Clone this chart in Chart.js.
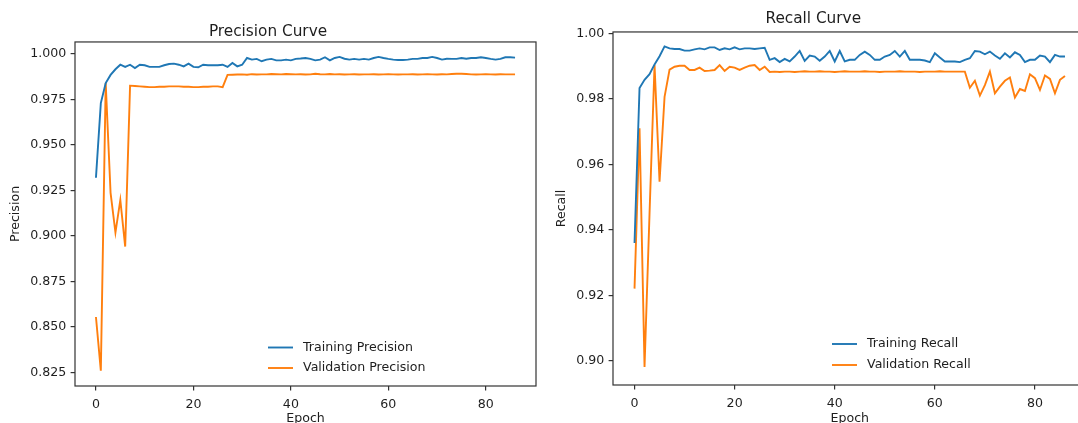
<!DOCTYPE html>
<html>
<head>
<meta charset="utf-8">
<title>Precision / Recall</title>
<script src="https://cdn.jsdelivr.net/npm/chart.js@4.4.1/dist/chart.umd.min.js"></script>
<style>
  html, body { margin:0; padding:0; background:#fff; overflow:hidden; width:1078px; height:423px; }
  canvas { position:absolute; top:0; }
  #precChart { left:0; }
  #recChart { left:540px; }
</style>
</head>
<body>
<canvas id="precChart" width="540" height="440"></canvas>
<canvas id="recChart" width="560" height="440"></canvas>
<script>
// per-epoch metrics, epochs 0..86
const precTrain = [
  0.9320, 0.9730, 0.9840, 0.9885, 0.9916, 0.9941, 0.9929, 0.9941, 0.9923, 0.9941,
  0.9938, 0.9929, 0.9929, 0.9929, 0.9938, 0.9945, 0.9947, 0.9941, 0.9932, 0.9947,
  0.9929, 0.9927, 0.9941, 0.9938, 0.9938, 0.9938, 0.9941, 0.9929, 0.9951, 0.9932,
  0.9941, 0.9978, 0.9969, 0.9973, 0.9960, 0.9969, 0.9973, 0.9965, 0.9965, 0.9969,
  0.9965, 0.9973, 0.9975, 0.9978, 0.9973, 0.9965, 0.9969, 0.9982, 0.9965, 0.9978,
  0.9984, 0.9974, 0.9969, 0.9973, 0.9969, 0.9973, 0.9969, 0.9978, 0.9984, 0.9978,
  0.9973, 0.9969, 0.9967, 0.9967, 0.9969, 0.9973, 0.9973, 0.9978, 0.9978, 0.9984,
  0.9978, 0.9969, 0.9974, 0.9973, 0.9973, 0.9978, 0.9974, 0.9978, 0.9978, 0.9982,
  0.9978, 0.9973, 0.9969, 0.9973, 0.9982, 0.9982, 0.9980
];
const precVal = [
  0.8555, 0.8260, 0.9840, 0.9237, 0.9019, 0.9198, 0.8942, 0.9826, 0.9824, 0.9822,
  0.9820, 0.9818, 0.9818, 0.9820, 0.9820, 0.9822, 0.9822, 0.9822, 0.9820, 0.9820,
  0.9818, 0.9818, 0.9820, 0.9820, 0.9822, 0.9822, 0.9818, 0.9885, 0.9886, 0.9887,
  0.9888, 0.9886, 0.9889, 0.9887, 0.9888, 0.9888, 0.9890, 0.9889, 0.9888, 0.9890,
  0.9889, 0.9888, 0.9889, 0.9887, 0.9888, 0.9891, 0.9889, 0.9888, 0.9890, 0.9888,
  0.9889, 0.9887, 0.9888, 0.9889, 0.9887, 0.9888, 0.9888, 0.9889, 0.9887, 0.9888,
  0.9889, 0.9888, 0.9887, 0.9888, 0.9888, 0.9889, 0.9887, 0.9888, 0.9889, 0.9888,
  0.9887, 0.9889, 0.9888, 0.9890, 0.9891, 0.9891, 0.9890, 0.9888, 0.9887, 0.9888,
  0.9889, 0.9888, 0.9887, 0.9889, 0.9888, 0.9888, 0.9888
];
const recTrain = [
  0.9360, 0.9833, 0.9858, 0.9875, 0.9905, 0.9930, 0.9960, 0.9954, 0.9952, 0.9952,
  0.9947, 0.9947, 0.9951, 0.9954, 0.9951, 0.9957, 0.9957, 0.9949, 0.9954, 0.9951,
  0.9957, 0.9951, 0.9954, 0.9954, 0.9952, 0.9954, 0.9956, 0.9919, 0.9924, 0.9912,
  0.9922, 0.9914, 0.9929, 0.9946, 0.9916, 0.9932, 0.9929, 0.9916, 0.9929, 0.9946,
  0.9914, 0.9946, 0.9914, 0.9919, 0.9919, 0.9934, 0.9944, 0.9934, 0.9919, 0.9919,
  0.9929, 0.9934, 0.9946, 0.9929, 0.9946, 0.9919, 0.9919, 0.9919, 0.9917, 0.9912,
  0.9939, 0.9926, 0.9914, 0.9914, 0.9914, 0.9912, 0.9919, 0.9924, 0.9946, 0.9944,
  0.9936, 0.9944, 0.9932, 0.9922, 0.9939, 0.9926, 0.9942, 0.9934, 0.9912, 0.9919,
  0.9919, 0.9932, 0.9929, 0.9912, 0.9934, 0.9929, 0.9929
];
const recVal = [
  0.9221, 0.9710, 0.8982, 0.9450, 0.9903, 0.9547, 0.9806, 0.9889, 0.9898, 0.9901,
  0.9901, 0.9888, 0.9888, 0.9895, 0.9885, 0.9886, 0.9888, 0.9903, 0.9885, 0.9898,
  0.9895, 0.9888, 0.9895, 0.9901, 0.9903, 0.9888, 0.9898, 0.9882, 0.9883, 0.9882,
  0.9883, 0.9883, 0.9882, 0.9883, 0.9884, 0.9883, 0.9883, 0.9884, 0.9883, 0.9883,
  0.9882, 0.9883, 0.9884, 0.9883, 0.9883, 0.9883, 0.9884, 0.9883, 0.9883, 0.9882,
  0.9883, 0.9883, 0.9883, 0.9884, 0.9883, 0.9883, 0.9883, 0.9882, 0.9883, 0.9883,
  0.9883, 0.9884, 0.9883, 0.9883, 0.9883, 0.9883, 0.9883, 0.9834, 0.9855, 0.9810,
  0.9842, 0.9883, 0.9817, 0.9837, 0.9855, 0.9865, 0.9804, 0.9830, 0.9824, 0.9875,
  0.9863, 0.9827, 0.9871, 0.9861, 0.9817, 0.9858, 0.9870
];

const epochTicks = [0, 20, 40, 60, 80];
const precTicks = [0.825, 0.850, 0.875, 0.900, 0.925, 0.950, 0.975, 1.000];
const recTicks = [0.90, 0.92, 0.94, 0.96, 0.98, 1.00];

const FONT = 'DejaVu Sans';
const INK = '#1e1e1e';
const BLUE = '#1f77b4', ORANGE = '#ff7f0e';

const pts = arr => arr.map((v, i) => ({x: i, y: v}));

// legend drawn inside the plot, no frame
const insideLegend = {
  id: 'insideLegend',
  afterDraw(chart, args, opts) {
    const {ctx, chartArea} = chart;
    ctx.save();
    ctx.font = '12.6px "' + FONT + '"';
    ctx.textBaseline = 'middle';
    ctx.fillStyle = INK;
    chart.data.datasets.forEach((ds, i) => {
      const x = chartArea.left + opts.x;
      const y = chartArea.bottom + opts.rows[i];
      ctx.strokeStyle = ds.borderColor;
      ctx.lineWidth = 1.9;
      ctx.beginPath(); ctx.moveTo(x, y); ctx.lineTo(x + 25, y); ctx.stroke();
      ctx.fillText(ds.label, x + 35, y);
    });
    ctx.restore();
  }
};

// full box around the plot area
const frame = {
  id: 'frame',
  afterDraw(chart) {
    const {ctx, chartArea: a} = chart;
    ctx.save();
    ctx.strokeStyle = '#333';
    ctx.lineWidth = 1.2;
    ctx.strokeRect(a.left, a.top, a.right - a.left, a.bottom - a.top);
    ctx.restore();
  }
};

function makeChart(id, c) {
  const axisTick = {drawOnChartArea: false, drawTicks: true, tickLength: 4.4, color: '#333', lineWidth: 1.2};
  return new Chart(document.getElementById(id), {
    type: 'line',
    data: {datasets: [
      {label: c.labels[0], data: pts(c.train), borderColor: BLUE, borderWidth: 1.9, pointRadius: 0, tension: 0},
      {label: c.labels[1], data: pts(c.val), borderColor: ORANGE, borderWidth: 1.9, pointRadius: 0, tension: 0}
    ]},
    options: {
      responsive: false, animation: false, devicePixelRatio: 1,
      layout: {padding: {left: 0, right: c.padRight, top: 0, bottom: 0}},
      plugins: {
        legend: {display: false},
        tooltip: {enabled: false},
        title: {display: true, text: c.title, color: INK,
          font: {family: FONT, size: 15.3, weight: 'normal'},
          padding: c.titlePad},
        insideLegend: c.legend
      },
      scales: {
        x: {
          type: 'linear', min: -4.3, max: 90.3,
          afterBuildTicks: s => { s.ticks = epochTicks.map(v => ({value: v})); },
          afterFit: s => { s.height = c.xHeight; },
          grid: axisTick, border: {display: false},
          ticks: {color: INK, padding: 6.5, font: {family: FONT, size: 12.6}},
          title: {display: true, text: 'Epoch', color: INK, font: {family: FONT, size: 12.6}, padding: {top: 0, bottom: 13.6}}
        },
        y: {
          type: 'linear', min: c.yMin, max: c.yMax,
          afterBuildTicks: s => { s.ticks = c.yTicks.map(v => ({value: v})); },
          afterFit: s => { s.width = c.yWidth; },
          grid: axisTick, border: {display: false},
          ticks: {color: INK, padding: 4.4, font: {family: FONT, size: 12.6},
            callback: v => v.toFixed(c.digits)},
          title: {display: true, text: c.yLabel, color: INK, font: {family: FONT, size: 12.6}, padding: {top: c.yTitleOffset, bottom: 0}}
        }
      }
    },
    plugins: [frame, insideLegend]
  });
}

makeChart('precChart', {
  title: 'Precision Curve', yLabel: 'Precision',
  labels: ['Training Precision', 'Validation Precision'],
  train: precTrain, val: precVal,
  yMin: 0.8176, yMax: 1.0066, yTicks: precTicks, digits: 3,
  yWidth: 75, xHeight: 54, padRight: 4, yTitleOffset: 8.4,
  titlePad: {top: 22.6, bottom: 1.0},
  legend: {x: 193, rows: [-38.5, -18]}
});

makeChart('recChart', {
  title: 'Recall Curve', yLabel: 'Recall',
  labels: ['Training Recall', 'Validation Recall'],
  train: recTrain, val: recVal,
  yMin: 0.8927, yMax: 1.0004, yTicks: recTicks, digits: 2,
  yWidth: 73, xHeight: 55, padRight: 13.5, yTitleOffset: 14.4,
  titlePad: {top: 9.6, bottom: 4.0},
  legend: {x: 219, rows: [-41, -20]}
});
</script>
</body>
</html>
